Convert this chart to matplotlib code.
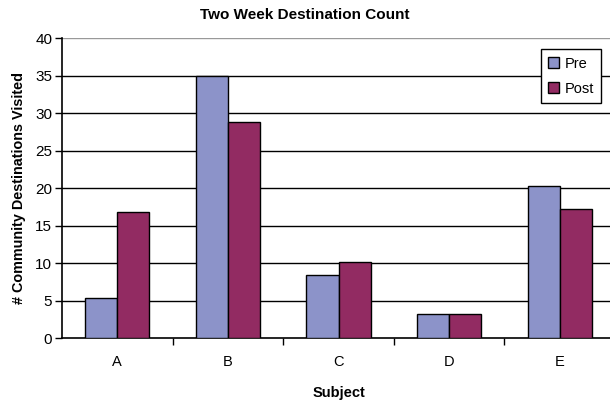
"""Two week destination count, pre vs post, per subject."""

import matplotlib
matplotlib.use("Agg")
import matplotlib.pyplot as plt
import numpy as np

subjects = ["A", "B", "C", "D", "E"]
pre = [5.4, 35.0, 8.5, 3.2, 20.3]
post = [16.8, 28.9, 10.2, 3.2, 17.2]

PRE_COLOR = "#8C93C9"
POST_COLOR = "#922B62"

plt.rcParams["font.family"] = ["Liberation Sans", "DejaVu Sans"]


def main() -> None:
    fig = plt.figure(figsize=(6.1, 4.03), dpi=100)
    ax = fig.add_axes([62 / 610, 64.7 / 403, 553 / 610, 300 / 403])

    x = np.arange(len(subjects))
    w = 0.29
    ax.bar(x - w / 2, pre, w, color=PRE_COLOR, edgecolor="black", linewidth=1, label="Pre", zorder=3)
    ax.bar(x + w / 2, post, w, color=POST_COLOR, edgecolor="black", linewidth=1, label="Post", zorder=3)

    ax.set_xlim(-0.5, len(subjects) - 0.5)
    ax.set_ylim(0, 40)
    ax.set_yticks(range(0, 41, 5))
    for yv in range(5, 40, 5):
        ax.axhline(yv, color="black", linewidth=1, zorder=1)
    ax.axhline(40, color="#999999", linewidth=1, zorder=1)

    ax.set_xticks(x)
    ax.set_xticklabels(subjects, fontsize=10.5)
    ax.set_xticks(np.arange(0.5, len(subjects) - 0.5, 1), minor=True)
    ax.tick_params(axis="x", which="major", length=0, pad=12)
    ax.tick_params(axis="x", which="minor", length=5, width=1, direction="out")
    ax.tick_params(axis="y", length=5, width=1, direction="out", labelsize=11, pad=2)

    for side in ("top", "right"):
        ax.spines[side].set_visible(False)
    ax.spines["left"].set_linewidth(1.2)
    ax.spines["bottom"].set_linewidth(1.2)

    ax.set_xlabel("Subject", fontsize=10.5, fontweight="bold", labelpad=12)
    ax.set_ylabel("# Community Destinations Visited", fontsize=10.4, fontweight="bold", labelpad=7)
    fig.text(0.5, 1 - 15 / 403, "Two Week Destination Count", ha="center", va="center",
             fontsize=11, fontweight="bold")

    leg = ax.legend(loc="upper right", bbox_to_anchor=(539 / 553, 1 - 11 / 300),
                    borderaxespad=0, fancybox=False, framealpha=1, edgecolor="black",
                    fontsize=10.5, handlelength=0.7, handleheight=0.7, handletextpad=0.4,
                    borderpad=0.5, labelspacing=0.75)
    leg.get_frame().set_linewidth(1)
    leg.set_zorder(5)

    fig.savefig("out.png", dpi=100)


if __name__ == "__main__":
    main()
